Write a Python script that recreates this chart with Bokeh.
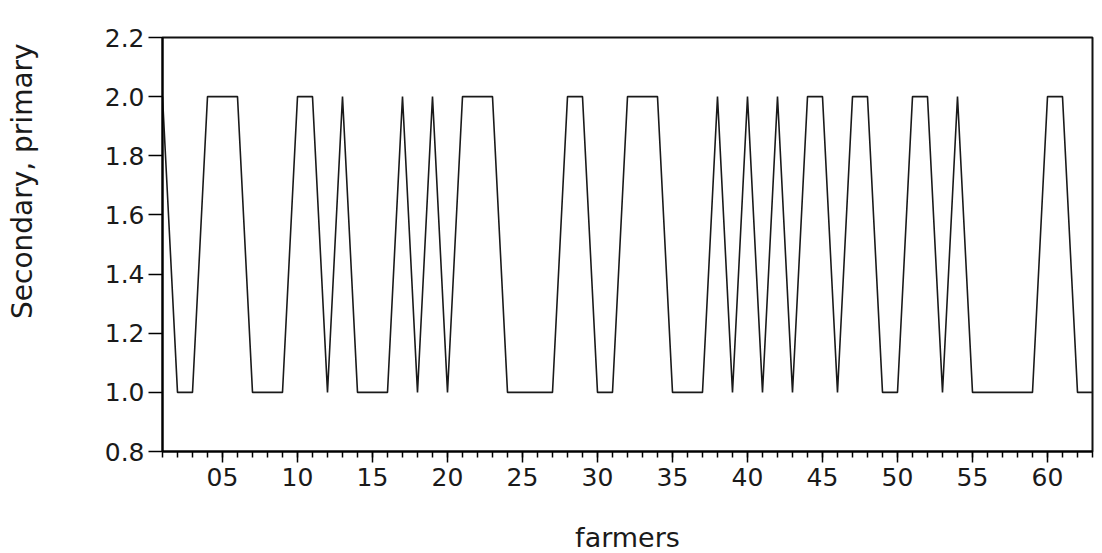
import math
from bokeh.plotting import figure
from bokeh.layouts import row, column
from bokeh.models import Range1d, FixedTicker
from bokeh.core.properties import value
from bokeh.embed import file_html
from bokeh.resources import INLINE

farmers = list(range(1, 64))
education = [2, 1, 1, 2, 2, 2, 1, 1, 1, 2,
             2, 1, 2, 1, 1, 1, 2, 1, 2, 1,
             2, 2, 2, 1, 1, 1, 1, 2, 2, 1,
             1, 2, 2, 2, 1, 1, 1, 2, 1, 2,
             1, 2, 1, 2, 2, 1, 2, 2, 1, 1,
             2, 2, 1, 2, 1, 1, 1, 1, 1, 2,
             2, 1, 1]
x_ticks = [5, 10, 15, 20, 25, 30, 35, 40, 45, 50, 55, 60]
x_tick_labels = ["05", "10", "15", "20", "25", "30", "35", "40", "45", "50", "55", "60"]
y_ticks = [0.8, 1.0, 1.2, 1.4, 1.6, 1.8, 2.0, 2.2]
y_tick_labels = ["0.8", "1.0", "1.2", "1.4", "1.6", "1.8", "2.0", "2.2"]
y_title = "Secondary, primary"
x_title = "farmers"

FONT = "DejaVu Sans"
INK = "#1a1a1a"


def text_strip(w, h):
    f = figure(width=w, height=h, output_backend="svg", toolbar_location=None,
               x_range=Range1d(0, w), y_range=Range1d(0, h),
               x_axis_type=None, y_axis_type=None, min_border=0)
    f.outline_line_color = None
    f.grid.visible = False
    f.background_fill_color = "white"
    f.border_fill_color = "white"
    return f


# left strip: vertical axis title (sits above the frame centre as in the original)
left = text_strip(60, 510)
left.text(x=[22], y=[333], text=[y_title], angle=math.pi / 2,
          text_align="center", text_baseline="middle",
          text_font=value(FONT), text_font_size="28px", text_color=INK)

# main chart
p = figure(width=1042, height=510, output_backend="svg", toolbar_location=None,
           x_range=Range1d(1, 63), y_range=Range1d(0.8, 2.2),
           min_border_left=102, min_border_right=10, min_border_top=37,
           min_border_bottom=59)
p.background_fill_color = "white"
p.border_fill_color = "white"
p.grid.visible = False
p.outline_line_color = "#111111"
p.outline_line_width = 2

p.line(farmers, education, line_color=INK, line_width=1.6)

xa = p.xaxis[0]
xa.ticker = FixedTicker(ticks=x_ticks, minor_ticks=farmers)
xa.major_label_overrides = {t: l for t, l in zip(x_ticks, x_tick_labels)}
xa.major_tick_out = 11
xa.major_tick_in = 0
xa.minor_tick_out = 6
xa.minor_tick_in = 0
xa.axis_line_width = 2
xa.major_tick_line_width = 1.5
xa.minor_tick_line_width = 1.5
xa.major_label_text_font = FONT
xa.major_label_text_font_size = "25px"
xa.major_label_text_color = INK
xa.major_label_standoff = 5

ya = p.yaxis[0]
ya.ticker = FixedTicker(ticks=y_ticks, minor_ticks=[])
ya.major_label_overrides = {t: l for t, l in zip(y_ticks, y_tick_labels)}
ya.major_tick_out = 14
ya.major_tick_in = 0
ya.minor_tick_out = 0
ya.axis_line_width = 2
ya.major_tick_line_width = 1.5
ya.major_label_text_font = FONT
ya.major_label_text_font_size = "25px"
ya.major_label_text_color = INK
ya.major_label_standoff = 4

# bottom strip: horizontal axis title, centred under the frame
bottom = text_strip(1102, 43)
bottom.text(x=[627], y=[16], text=[x_title],
            text_align="center", text_baseline="middle",
            text_font=value(FONT), text_font_size="27px", text_color=INK)

layout = column(row(left, p, spacing=0), bottom, spacing=0)
open("out.html", "w").write(file_html(layout, INLINE))
